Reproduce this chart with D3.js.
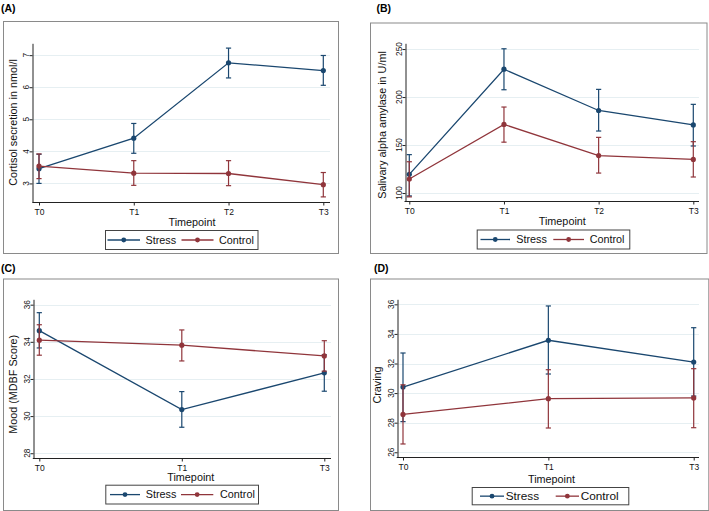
<!DOCTYPE html>
<html>
<head>
<meta charset="utf-8">
<script src="https://cdn.jsdelivr.net/npm/d3@7"></script>
<style type="text/css">
  body{
    margin: 0px;
    background: white;
  }
  svg{
    font-family: 'Liberation Sans', Arial, sans-serif;
  }
  .frame{
    fill: white;
    stroke: #8a8a8a;
    stroke-width: 1;
  }
  .grid{
    stroke: #e6eff2;
    stroke-width: 1;
  }
  .axis path,
  .axis line{
    stroke: #222;
    stroke-width: 1;
  }
  .axis text{
    fill: #111;
    font-size: 8.5px;
  }
  .yTick{
    fill: #111;
    font-size: 8.2px;
  }
  .panelLabel{
    font-size: 10.5px;
    font-weight: bold;
  }
  .axisTitle{
    font-size: 10.8px;
    fill: #111;
  }
  .legendBox{
    fill: white;
    stroke: #444;
    stroke-width: 1;
  }
  .legendText{
    font-size: 10.8px;
    fill: #111;
  }
</style>
</head>
<body>

<svg id="chart" width="709" height="511"></svg>

<script>

var timepoints4 = ['T0', 'T1', 'T2', 'T3'];
var timepoints3 = ['T0', 'T1', 'T3'];
var seriesNames = ['Stress', 'Control'];
var seriesColors = ['#1a476f', '#90353b'];

// (A) cortisol
var cortisolStress      = [3.46, 4.41, 6.76, 6.52];
var cortisolStressLow   = [3.00, 3.94, 6.29, 6.06];
var cortisolStressHigh  = [3.91, 4.87, 7.22, 6.99];
var cortisolControl     = [3.54, 3.32, 3.31, 2.96];
var cortisolControlLow  = [3.15, 2.94, 2.93, 2.58];
var cortisolControlHigh = [3.92, 3.71, 3.71, 3.34];
var cortisolTicks = [3, 4, 5, 6, 7];
var cortisolExtent = [2.43, 7.37];

// (B) salivary alpha amylase
var amylaseStress      = [119.5, 229, 186, 171];
var amylaseStressLow   = [97, 207.6, 164.6, 149];
var amylaseStressHigh  = [140, 250.3, 208, 192.4];
var amylaseControl     = [114.6, 171.5, 139, 135];
var amylaseControlLow  = [96, 153, 120.8, 116.7];
var amylaseControlHigh = [132.6, 189.6, 158, 153.5];
var amylaseTicks = [100, 150, 200, 250];
var amylaseExtent = [91.7, 256];

// (C) mood
var moodStress      = [34.6, 30.35, 32.33];
var moodStressLow   = [33.67, 29.4, 31.34];
var moodStressHigh  = [35.57, 31.32, 33.3];
var moodControl     = [34.09, 33.82, 33.24];
var moodControlLow  = [33.28, 32.97, 32.42];
var moodControlHigh = [34.92, 34.64, 34.06];
var moodTicks = [28, 30, 32, 34, 36];
var moodExtent = [27.76, 36.29];

// (D) craving
var cravingStress      = [30.41, 33.57, 32.1];
var cravingStressLow   = [28.07, 31.29, 29.8];
var cravingStressHigh  = [32.71, 35.89, 34.42];
var cravingControl     = [28.56, 29.62, 29.67];
var cravingControlLow  = [26.56, 27.64, 27.66];
var cravingControlHigh = [30.56, 31.58, 31.65];
var cravingTicks = [26, 28, 30, 32, 34, 36];
var cravingExtent = [25.68, 36.34];


var svg = d3.select('#chart');

var panels = [
  {
    label: '(A)', labelPos: [1, 12],
    box: [3, 21, 338, 253],
    cats: timepoints4, xRange: [39, 323.3], axisX: 32.3, axisEnd: 330,
    yRange: [201.7, 43.3], extent: cortisolExtent, ticks: cortisolTicks,
    yTitle: 'Cortisol secretion in nmol/l', yTitlePos: [17, 122.5],
    xTitlePos: [192, 225.5], legendFont: 10.8,
    series: [
      [cortisolStress, cortisolStressLow, cortisolStressHigh],
      [cortisolControl, cortisolControlLow, cortisolControlHigh]
    ],
    legend: { box: [105, 230, 257.5, 249], lines: [[107.5, 140], [181.5, 213.5]], texts: [145.5, 219] }
  },
  {
    label: '(B)', labelPos: [376.5, 11.5],
    box: [370, 22.5, 706.5, 253],
    cats: timepoints4, xRange: [409.3, 693.3], axisX: 404.5, axisEnd: 699,
    yRange: [201, 43.3], extent: amylaseExtent, ticks: amylaseTicks,
    yTitle: 'Salivary alpha amylase in U/ml', yTitlePos: [385.5, 125],
    xTitlePos: [562.3, 225], legendFont: 10.8,
    series: [
      [amylaseStress, amylaseStressLow, amylaseStressHigh],
      [amylaseControl, amylaseControlLow, amylaseControlHigh]
    ],
    legend: { box: [476.7, 229.5, 629.3, 248.5], lines: [[480.5, 510], [553.3, 584]], texts: [516.3, 589.7] }
  },
  {
    label: '(C)', labelPos: [1, 272],
    box: [3, 278.5, 338, 510],
    cats: timepoints3, xRange: [39.3, 324.3], axisX: 32.8, axisEnd: 331,
    yRange: [457.7, 299.3], extent: moodExtent, ticks: moodTicks,
    yTitle: 'Mood (MDBF Score)', yTitlePos: [16.7, 384.3],
    xTitlePos: [190.8, 481], legendFont: 10.8,
    series: [
      [moodStress, moodStressLow, moodStressHigh],
      [moodControl, moodControlLow, moodControlHigh]
    ],
    legend: { box: [105.3, 484.7, 258, 503.5], lines: [[110, 140], [181, 213.3]], texts: [145.7, 220] }
  },
  {
    label: '(D)', labelPos: [374, 272],
    box: [370, 278.5, 708.3, 510],
    cats: timepoints3, xRange: [403, 693.7], axisX: 396.7, axisEnd: 699,
    yRange: [457, 299.3], extent: cravingExtent, ticks: cravingTicks,
    yTitle: 'Craving', yTitlePos: [381.3, 385],
    xTitlePos: [551.5, 482.5], legendFont: 11.8,
    series: [
      [cravingStress, cravingStressLow, cravingStressHigh],
      [cravingControl, cravingControlLow, cravingControlHigh]
    ],
    legend: { box: [471.7, 487, 628.3, 504.3], lines: [[480, 504], [555.7, 579]], texts: [505.7, 580.7] }
  }
];

panels.forEach(drawPanel);

function drawPanel(p) {

  var g = svg.append('g');

  g.append('text')
    .attr('class', 'panelLabel')
    .attr('x', p.labelPos[0])
    .attr('y', p.labelPos[1])
    .text(p.label);

  g.append('rect')
    .attr('class', 'frame')
    .attr('x', p.box[0] + 0.5)
    .attr('y', p.box[1] + 0.5)
    .attr('width', p.box[2] - p.box[0])
    .attr('height', p.box[3] - p.box[1]);

  var x = d3.scalePoint().domain(p.cats).range(p.xRange);
  var y = d3.scaleLinear().domain(p.extent).range(p.yRange);

  // grid lines at the y ticks
  g.selectAll('.grid')
    .data(p.ticks)
    .enter()
    .append('line')
    .attr('class', 'grid')
    .attr('x1', p.axisX)
    .attr('x2', p.axisEnd)
    .attr('y1', function(d) { return Math.round(y(d)) + 0.5; })
    .attr('y2', function(d) { return Math.round(y(d)) + 0.5; });

  // y axis: line and ticks from d3, labels turned by hand
  var ax = Math.round(p.axisX) + 0.5;
  var yAxis = g.append('g')
    .attr('class', 'axis')
    .attr('transform', 'translate(' + ax + ',0)')
    .call(d3.axisLeft(y).tickValues(p.ticks).tickSize(3).tickSizeOuter(0).tickFormat(''));

  g.selectAll('.yTick')
    .data(p.ticks)
    .enter()
    .append('text')
    .attr('class', 'yTick')
    .attr('transform', function(d) {
      return 'translate(' + (ax - 3.5) + ',' + y(d) + ') rotate(-90)';
    })
    .attr('text-anchor', 'middle')
    .text(function(d) { return d; });

  // x axis
  var xAxis = g.append('g')
    .attr('class', 'axis')
    .attr('transform', 'translate(0,' + (Math.round(p.yRange[0]) + 0.5) + ')')
    .call(d3.axisBottom(x).tickSize(3).tickSizeOuter(0).tickPadding(3));

  xAxis.select('.domain').remove();
  xAxis.append('line')
    .attr('x1', p.axisX)
    .attr('x2', p.axisEnd)
    .attr('y1', 0)
    .attr('y2', 0);

  g.append('text')
    .attr('class', 'axisTitle')
    .attr('x', p.xTitlePos[0])
    .attr('y', p.xTitlePos[1])
    .attr('text-anchor', 'middle')
    .text('Timepoint');

  g.append('text')
    .attr('class', 'axisTitle')
    .attr('transform', 'translate(' + p.yTitlePos[0] + ',' + p.yTitlePos[1] + ') rotate(-90)')
    .attr('text-anchor', 'middle')
    .text(p.yTitle);

  var line = d3.line()
    .x(function(d) { return x(d.cat); })
    .y(function(d) { return y(d.mean); });

  p.series.forEach(function(s, si) {

    var pts = p.cats.map(function(c, i) {
      return { cat: c, mean: s[0][i], low: s[1][i], high: s[2][i] };
    });
    var col = seriesColors[si];

    var bars = g.append('g')
      .attr('stroke', col)
      .attr('stroke-width', 1.2)
      .selectAll('g')
      .data(pts)
      .enter()
      .append('g');

    bars.append('line')
      .attr('x1', function(d) { return x(d.cat); })
      .attr('x2', function(d) { return x(d.cat); })
      .attr('y1', function(d) { return y(d.low); })
      .attr('y2', function(d) { return y(d.high); });

    bars.append('line')
      .attr('x1', function(d) { return x(d.cat) - 2.6; })
      .attr('x2', function(d) { return x(d.cat) + 2.6; })
      .attr('y1', function(d) { return y(d.low); })
      .attr('y2', function(d) { return y(d.low); });

    bars.append('line')
      .attr('x1', function(d) { return x(d.cat) - 2.6; })
      .attr('x2', function(d) { return x(d.cat) + 2.6; })
      .attr('y1', function(d) { return y(d.high); })
      .attr('y2', function(d) { return y(d.high); });

    g.append('path')
      .datum(pts)
      .attr('fill', 'none')
      .attr('stroke', col)
      .attr('stroke-width', 1.3)
      .attr('d', line);

    g.selectAll('.dot' + si)
      .data(pts)
      .enter()
      .append('circle')
      .attr('class', 'dot' + si)
      .attr('cx', function(d) { return x(d.cat); })
      .attr('cy', function(d) { return y(d.mean); })
      .attr('r', 2.6)
      .attr('fill', col);
  });

  // legend
  var L = p.legend;
  var lg = g.append('g');
  lg.append('rect')
    .attr('class', 'legendBox')
    .attr('x', L.box[0] + 0.5)
    .attr('y', L.box[1] + 0.5)
    .attr('width', L.box[2] - L.box[0])
    .attr('height', L.box[3] - L.box[1]);

  var midY = (L.box[1] + L.box[3]) / 2 + 0.5;

  seriesNames.forEach(function(name, i) {
    lg.append('line')
      .attr('x1', L.lines[i][0])
      .attr('x2', L.lines[i][1])
      .attr('y1', midY)
      .attr('y2', midY)
      .attr('stroke', seriesColors[i])
      .attr('stroke-width', 1.3);
    lg.append('circle')
      .attr('cx', (L.lines[i][0] + L.lines[i][1]) / 2)
      .attr('cy', midY)
      .attr('r', 2.4)
      .attr('fill', seriesColors[i]);
    lg.append('text')
      .attr('class', 'legendText')
      .style('font-size', p.legendFont + 'px')
      .attr('x', L.texts[i])
      .attr('y', midY + p.legendFont * 0.36)
      .text(name);
  });
}

</script>

</body>
</html>
